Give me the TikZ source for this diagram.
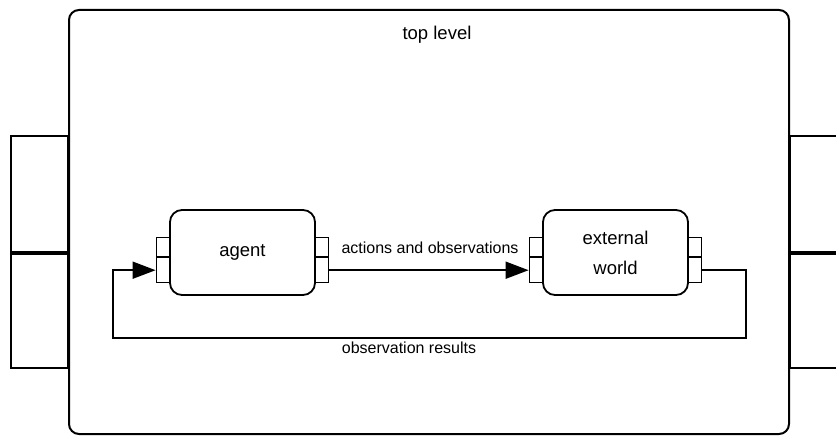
\documentclass[tikz,border=0pt]{standalone}
\usepackage{fontspec}
\setmainfont{Liberation Sans}
\usetikzlibrary{arrows.meta,positioning,calc}
\tikzset{
	container/.style={draw, rounded corners=10pt, line width=2pt, minimum width=720pt, minimum height=424pt, inner sep=0pt},
	actor/.style={draw, rounded corners=12pt, line width=1.8pt, minimum width=145pt, minimum height=85pt, align=center, inner sep=0pt, font=\fontsize{18.5}{30}\selectfont},
	outport/.style={draw, line width=1.6pt, minimum width=57pt, inner sep=0pt},
	portA/.style={draw, line width=1.4pt, minimum width=13pt, minimum height=19pt, inner sep=0pt},
	portB/.style={draw, line width=1.4pt, minimum width=13pt, minimum height=25pt, inner sep=0pt},
	flow/.style={-{Triangle[length=23pt, width=17pt]}, line width=1.8pt},
	tag/.style={font=\fontsize{16}{19}\selectfont, inner sep=0pt, anchor=base}
}
\begin{document}
\begin{tikzpicture}[x=1pt, y=-1pt]
	\useasboundingbox (0,0) rectangle (836,436);
	\clip (0,0) rectangle (836,436);
	% top level and its ports
	\node[outport, minimum height=116pt, anchor=south east] (topInA) at (69,253) {};
	\node[outport, minimum height=114pt, anchor=north east] (topInB) at (69,253) {};
	\node[outport, minimum width=70pt, minimum height=116pt, anchor=south west] (topOutA) at (789,253) {};
	\node[outport, minimum width=70pt, minimum height=114pt, anchor=north west] (topOutB) at (789,253) {};
	\node[container, fill=white] (toplevel) at (429,222) {};
	\node[font=\fontsize{18.5}{22}\selectfont, inner sep=0pt, anchor=base] (toplabel) at (437,40) {top level};
	% agent
	\node[portA, anchor=south east] (agentInA) at (170,257) {};
	\node[portB, anchor=north east] (agentInB) at (170,257) {};
	\node[portA, anchor=south west] (agentOutA) at (315,257) {};
	\node[portB, anchor=north west] (agentOutB) at (315,257) {};
	\node[actor] (agent) at (242.5,252.5) {agent};
	% external world
	\node[portA, anchor=south east] (worldInA) at (543,257) {};
	\node[portB, anchor=north east] (worldInB) at (543,257) {};
	\node[portA, anchor=south west] (worldOutA) at (688,257) {};
	\node[portB, anchor=north west] (worldOutB) at (688,257) {};
	\node[actor] (world) at (615.5,252.5) {external\\world};
	% connections
	\draw[flow] (agentOutB.east) -- (worldInB.west);
	\node[tag] (actlabel) at (430,253) {actions and observations};
	\coordinate (loopR) at (746,338);
	\coordinate (loopL) at (113,338);
	\draw[flow] (worldOutB.east) -| (loopR) -- (loopL) |- (agentInB.west);
	\node[tag] (obslabel) at (409,353) {observation results};
\end{tikzpicture}
\end{document}
